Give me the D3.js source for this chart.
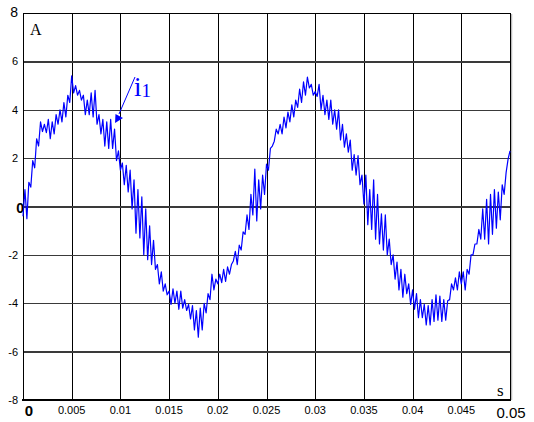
<!DOCTYPE html>
<html>
<head>
<meta charset="utf-8">
<script src="https://cdn.jsdelivr.net/npm/d3@7"></script>
<style>
  body { margin: 0; background: #fff; }
  svg text { font-family: Arial, "Liberation Sans", sans-serif; }
</style>
</head>
<body>
<script>

var width = 534
var height = 422

// sample step of the current trace (s)
var step = 0.0002

// current i1 (A), one value per 0.2 ms
var current = [
  -0.4, 0.7, -0.5, 1.0, 0.8,
  1.9, 1.6, 2.8, 2.5, 3.5,
  3.1, 3.4, 3.05, 3.6, 2.8,
  3.5, 3.0, 3.8, 3.4, 4.0,
  3.5, 4.3, 3.7, 4.6, 4.3,
  5.4, 4.7, 5.0, 4.6, 4.8,
  4.4, 4.6, 3.8, 4.4, 3.8,
  4.7, 3.7, 4.8, 3.4, 3.8,
  3.0, 3.6, 2.5, 3.5, 2.4,
  3.6, 2.4, 3.2, 1.9, 2.3,
  1.5, 1.8, 0.9, 1.7, 0.6,
  1.5, -0.1, 1.1, -1.1, 0.7,
  -1.3, 0.4, -2.0, -0.1, -2.2,
  -0.8, -2.4, -1.4, -2.6, -2.4,
  -3.2, -2.7, -3.5, -3.2, -3.65,
  -3.5, -4.05, -3.4, -4.0, -3.5,
  -4.25, -3.5, -4.2, -3.85, -4.3,
  -4.05, -4.65, -4.1, -5.1, -4.3,
  -5.4, -4.2, -5.1, -4.0, -4.4,
  -3.6, -3.85, -2.8, -3.45, -3.0,
  -3.2, -2.8, -3.15, -2.6, -3.1,
  -2.5, -2.8, -2.4, -2.25, -1.85,
  -2.4, -1.6, -1.8, -1.05, -1.15,
  -0.35, -0.95, 0.5, -0.35, 1.55,
  -0.6, 1.1, -0.1, 1.3, 0.5,
  1.75, 1.5, 2.4, 2.5, 2.7,
  3.2, 3.0, 3.4, 3.0, 3.7,
  3.25, 3.9, 3.5, 4.2, 3.7,
  4.4, 4.1, 4.85, 4.3, 5.15,
  4.6, 5.35, 4.9, 5.05, 4.6,
  4.75, 4.55, 5.05, 4.0, 4.6,
  3.8, 4.4, 3.6, 4.4, 3.4,
  4.0, 3.2, 4.0, 2.75, 3.4,
  2.45, 3.0, 2.25, 2.75, 1.5,
  2.15, 1.3, 2.1, 0.9, 1.3,
  0.1, 1.3, -0.75, 0.7, -0.95,
  1.1, -1.35, 0.5, -1.55, -0.3,
  -1.8, -0.35, -2.0, -1.35, -2.4,
  -2.0, -3.0, -2.3, -3.45, -2.6,
  -3.75, -2.8, -3.6, -3.2, -4.05,
  -3.45, -4.25, -3.6, -4.6, -3.85,
  -4.6, -4.05, -4.9, -4.1, -4.9,
  -3.85, -4.75, -3.65, -4.7, -3.7,
  -4.75, -3.85, -4.7, -3.9, -3.85,
  -3.2, -3.45, -2.95, -3.45, -2.7,
  -3.2, -2.7, -3.45, -2.6, -2.8,
  -2.0, -2.0, -1.55, -1.55, -0.95,
  -1.35, -0.1, -1.35, 0.3, -1.55,
  0.5, -1.15, 0.7, -0.9, 0.6,
  -0.55, 0.9, 0.5, 1.4, 1.95,
  2.3
]

var xTicks = [0, 0.005, 0.01, 0.015, 0.02, 0.025, 0.03, 0.035, 0.04, 0.045, 0.05]
var xLabels = ["0", "0.005", "0.01", "0.015", "0.02", "0.025", "0.03", "0.035", "0.04", "0.045", "0.05"]
var yTicks = [-8, -6, -4, -2, 0, 2, 4, 6, 8]
var yLabels = ["-8", "-6", "-4", "-2", "0", "2", "4", "6", "8"]

var x = d3.scaleLinear().domain([0, 0.05]).range([23, 510])
var y = d3.scaleLinear().domain([-8, 8]).range([400, 13])

var svg = d3.select("body").append("svg")
            .attr("width", width)
            .attr("height", height)

// grid
svg.append("g")
   .attr("transform", "translate(0,13)")
   .call(d3.axisBottom(x).tickValues(xTicks).tickSize(387).tickFormat(""))
   .call(function(g){
     g.select(".domain").remove()
     g.selectAll("line").attr("stroke", "#000").attr("stroke-width", 1)
      .attr("shape-rendering", "crispEdges")
   })

svg.append("g")
   .attr("transform", "translate(23,0)")
   .call(d3.axisRight(y).tickValues(yTicks).tickSize(487).tickFormat(""))
   .call(function(g){
     g.select(".domain").remove()
     g.selectAll("line").attr("stroke", "#3a3a3a").attr("stroke-width", 1.4)
      .attr("shape-rendering", "crispEdges")
   })

// frame
svg.append("line").attr("x1", 511.5).attr("x2", 511.5).attr("y1", 14).attr("y2", 400)
   .attr("stroke", "#bbb").attr("stroke-width", 1.5)
svg.append("rect").attr("x", 23).attr("y", 13).attr("width", 487).attr("height", 387)
   .attr("fill", "none").attr("stroke", "#000").attr("stroke-width", 1)
   .attr("shape-rendering", "crispEdges")
svg.append("line").attr("x1", 22).attr("x2", 511).attr("y1", 400).attr("y2", 400)
   .attr("stroke", "#000").attr("stroke-width", 2.2)

// the trace
var line = d3.line()
             .x(function(d, i){ return x(i * step) })
             .y(function(d){ return y(d) })

svg.append("path")
   .datum(current)
   .attr("d", line)
   .attr("fill", "none")
   .attr("stroke", "#0000ff")
   .attr("stroke-width", 1.2)
   .attr("stroke-linejoin", "round")

// y tick labels
svg.selectAll(".ylab")
   .data(yTicks)
   .enter().append("text")
   .attr("x", function(d){ return d == 0 ? 24 : 18 })
   .attr("y", function(d){ return y(d) + (d == 0 ? 6 : 4) })
   .attr("text-anchor", "end")
   .attr("font-size", function(d){ return d == 0 || d == 8 ? 14 : 11 })
   .attr("font-weight", function(d){ return d == 0 ? "bold" : "normal" })
   .text(function(d, i){ return yLabels[i] })

// x tick labels
svg.selectAll(".xlab")
   .data(xTicks)
   .enter().append("text")
   .attr("x", function(d){ return d == 0 ? 29 : x(d) + (d == 0.05 ? 1 : 0) })
   .attr("y", function(d){ return d == 0 ? 416 : (d == 0.05 ? 418 : 414) })
   .attr("text-anchor", "middle")
   .attr("font-size", function(d){ return d == 0 ? 15 : (d == 0.05 ? 15 : 11) })
   .attr("font-weight", function(d){ return d == 0 ? "bold" : "normal" })
   .text(function(d, i){ return xLabels[i] })

// unit labels
svg.append("text").attr("x", 30).attr("y", 35)
   .style("font-family", "'Liberation Serif', 'Times New Roman', serif")
   .attr("font-size", 16).text("A")
svg.append("text").attr("x", 497).attr("y", 396)
   .style("font-family", "'Liberation Serif', 'Times New Roman', serif")
   .attr("font-size", 17).text("s")

// i1 annotation with arrow
var ann = svg.append("text").attr("x", 134).attr("y", 96)
   .style("font-family", "'Liberation Serif', 'Times New Roman', serif")
   .attr("fill", "#0000ff").attr("font-size", 27)
ann.append("tspan").text("i")
ann.append("tspan").attr("font-size", 19).attr("dy", 1).text("1")

svg.append("line").attr("x1", 135).attr("y1", 77).attr("x2", 119).attr("y2", 114)
   .attr("stroke", "#0000ff").attr("stroke-width", 1)
svg.append("path").attr("d", "M115,123 L115.5,114 L123,118 Z")
   .attr("fill", "#0000ff")

</script>
</body>
</html>
